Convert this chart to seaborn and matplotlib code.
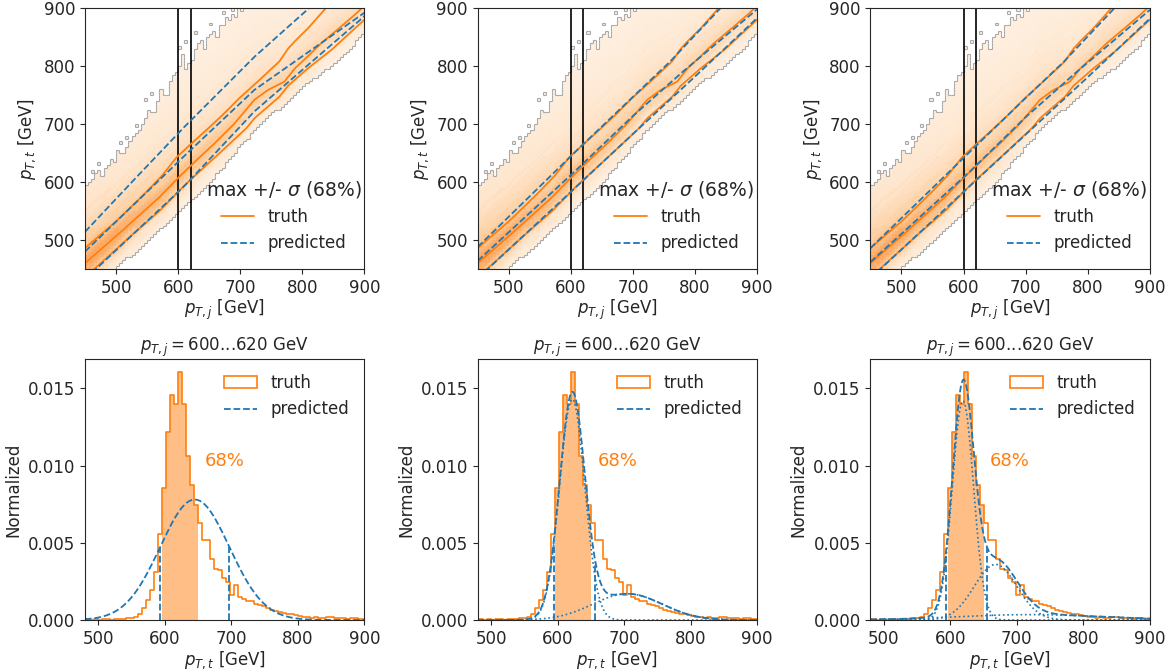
import numpy as np
import pandas as pd
import matplotlib
matplotlib.use("Agg")
import matplotlib.pyplot as plt
import matplotlib.colors as mcolors
from matplotlib.lines import Line2D
from matplotlib.patches import Patch
from matplotlib.collections import LineCollection
from matplotlib.ticker import FormatStrFormatter
import seaborn as sns

sns.set_style("ticks")
plt.rcParams['font.family'] = ['DejaVu Sans']
plt.rcParams['font.size'] = 12
plt.rcParams['mathtext.fontset'] = 'dejavusans'

ORANGE = '#ff7f0e'
BLUE = '#1f77b4'

# truth slice p_T,j = 600...620 GeV, 6 GeV bins starting at 476
truth_edges = np.arange(476, 903, 6)
truth_heights = [0.00004, 0.00004, 0.0, 0.00004, 0.0, 0.00004, 0.00004, 0.0, 0.00004, 0.00008,
                 0.00008, 0.00012, 0.00015, 0.00022, 0.00040, 0.00075, 0.00130, 0.00195, 0.00312, 0.00555,
                 0.00855, 0.01216, 0.01457, 0.01400, 0.01603, 0.01400, 0.01062, 0.00877, 0.00747, 0.00630,
                 0.00520, 0.00515, 0.00395, 0.00330, 0.00322, 0.00270, 0.00245, 0.00165, 0.00228, 0.00150,
                 0.00135, 0.00125, 0.00120, 0.00105, 0.00098, 0.00088, 0.00075, 0.00068, 0.00060, 0.00052,
                 0.00045, 0.00040, 0.00036, 0.00030, 0.00025, 0.00022, 0.00020, 0.00015, 0.00018, 0.00015,
                 0.00012, 0.00018, 0.00022, 0.00012, 0.00010, 0.00012, 0.00008, 0.00012, 0.00010, 0.00006,
                 0.00008]
truth_band = [596, 650]   # 68% region of the truth slice

# predicted gaussian components per model (mean, width, peak height)
pred_mu = [[645], [622, 705], [619, 668, 720]]
pred_sigma = [[52], [19, 52], [16, 32, 110]]
pred_amp = [[0.0078], [0.0143, 0.0017], [0.0142, 0.0036, 0.00035]]
pred_band = [[593, 697], [594, 657], [593, 655]]

# top row: truth max and +/- sigma lines vs p_T,j
truth_max_j = [450, 480, 510, 540, 570, 600, 630, 660, 690, 723, 745, 771, 788, 810, 830, 860, 884, 900]
truth_max_t = [460, 488, 516, 545, 574, 607, 638, 668, 700, 742, 759, 773, 796, 818, 839, 866, 888, 904]
truth_hi_j = [450, 500, 530, 550, 575, 597, 619, 650, 672, 699, 730, 763, 777, 790, 809, 838]
truth_hi_t = [486, 532, 563, 584, 612, 642, 664, 694, 716, 745, 775, 808, 830, 845, 865, 900]
truth_lo_j = [450, 466, 528, 570, 610, 672, 710, 723, 763, 777, 809, 847, 900]
truth_lo_t = [436, 451, 511, 550, 594, 655, 693, 710, 747, 766, 796, 828, 880]

# predicted lines, one set per model: (p_T,j points, p_T,t points)
pred_hi = [([450, 530, 610, 723, 811], [514, 605, 695, 816, 900]),
           ([450, 610, 700, 760, 841], [488, 655, 747, 808, 900]),
           ([450, 610, 700, 760, 843], [486, 652, 745, 806, 900])]
pred_mid = [([450, 610, 723, 900], [480, 645, 759, 892]),
            ([450, 610, 700, 780, 900], [464, 622, 714, 790, 898]),
            ([450, 610, 700, 780, 900], [462, 618, 712, 788, 897])]
pred_lo = [([450, 610, 723, 900], [432, 593, 722, 886]),
           ([450, 610, 700, 800, 900], [434, 593, 683, 782, 883]),
           ([450, 610, 700, 800, 900], [434, 593, 682, 781, 882])]

# populated region of the 2d histogram (upper edge per 5 GeV column)
upper_edge_j = [450, 455, 460, 465, 470, 475, 480, 485, 490, 495, 500, 505, 510, 515, 520, 525, 530,
                535, 540, 545, 550, 555, 560, 565, 570, 575, 580, 585, 590, 595, 600, 605, 610, 615,
                620, 625, 630, 635, 640, 645, 650, 655, 660, 665, 670, 675, 680, 685, 690, 695, 700,
                705, 710]
upper_edge_t = [597, 602, 606, 615, 620, 612, 625, 632, 640, 637, 655, 648, 650, 662, 668, 680, 684,
                690, 702, 712, 725, 722, 718, 740, 760, 750, 752, 775, 787, 790, 800, 822, 795, 805,
                810, 830, 838, 845, 832, 848, 855, 862, 850, 870, 870, 885, 878, 892, 885, 900, 895,
                905, 905]
lower_edge_j = [450, 500, 550, 610, 650, 723, 777, 814, 857, 900]
lower_edge_t = [412, 452, 497, 557, 598, 690, 741, 776, 808, 857]
# isolated populated cells above the upper edge
stray_j = [462, 472, 507, 517, 532, 547, 557, 602, 612, 627, 652, 672, 687]
stray_t = [617, 632, 667, 677, 697, 742, 752, 832, 842, 857, 872, 892, 897]
# event density relative to the 600-620 slice
falloff_j = [450, 525, 610, 700, 800, 900]
falloff_f = [2.0, 1.5, 1.0, 0.7, 0.45, 0.3]

# ---- build the 2d histogram cells from the slice profile ----
cell_edges = np.arange(450, 905, 5)
cell_c = cell_edges[:-1] + 2.5
XC, YC = np.meshgrid(cell_c, cell_c)
heights = np.array(truth_heights)
shift = np.interp(XC, truth_max_j, truth_max_t) - np.interp(610, truth_max_j, truth_max_t)
d = YC - shift
idx = np.searchsorted(truth_edges, d, side='right') - 1
prof = np.where((idx >= 0) & (idx < len(heights)), heights[np.clip(idx, 0, len(heights) - 1)], 0.00006)
prof = np.maximum(prof, 0.00004)
w = prof * np.interp(XC, falloff_j, falloff_f)
up_idx = np.clip(np.searchsorted(upper_edge_j, XC, side='right') - 1, 0, len(upper_edge_j) - 1)
up = np.array(upper_edge_t)[up_idx]
lo = np.interp(XC, lower_edge_j, lower_edge_t)
inside = (YC <= up) & (YC >= lo)
for sj, st in zip(stray_j, stray_t):
    ix = np.searchsorted(cell_edges, sj) - 1
    iy = np.searchsorted(cell_edges, st) - 1
    if 0 <= ix < len(cell_c) and 0 <= iy < len(cell_c):
        inside[iy, ix] = True
w = np.where(inside, w, 0.0)
cells = pd.DataFrame({'pt_j': XC[inside], 'pt_t': YC[inside], 'w': w[inside]})

# staircase outline of populated region
segs = []
ny, nx = inside.shape
for iy in range(ny):
    for ix in range(nx - 1):
        if inside[iy, ix] != inside[iy, ix + 1]:
            segs.append([(cell_edges[ix + 1], cell_edges[iy]), (cell_edges[ix + 1], cell_edges[iy + 1])])
for iy in range(ny - 1):
    for ix in range(nx):
        if inside[iy, ix] != inside[iy + 1, ix]:
            segs.append([(cell_edges[ix], cell_edges[iy + 1]), (cell_edges[ix + 1], cell_edges[iy + 1])])

cmap = mcolors.LinearSegmentedColormap.from_list('pale_or', plt.cm.Oranges(np.linspace(0.02, 0.42, 256)))

fig, axs = plt.subplots(2, 3, figsize=(11.75, 6.7), dpi=100)
plt.subplots_adjust(left=0.0723, right=0.9787, bottom=0.0746, top=0.988, wspace=0.405, hspace=0.345)

centers = (truth_edges[:-1] + truth_edges[1:]) / 2
xg = np.linspace(480, 900, 421)
cell_bins = list(cell_edges)

for k in range(3):
    # top: 2d histogram with lines
    ax = axs[0, k]
    sns.histplot(data=cells, x='pt_j', y='pt_t', weights='w', bins=[cell_bins, cell_bins],
                 cmap=cmap, ax=ax)
    ax.collections[-1].set_norm(mcolors.PowerNorm(gamma=0.5, vmin=0, vmax=0.032, clip=True))
    ax.add_collection(LineCollection(segs, colors='#a8a8a8', linewidths=0.8))
    ax.axvline(600, color='k', lw=1.2)
    ax.axvline(620, color='k', lw=1.2)
    for lj, lt in [(truth_hi_j, truth_hi_t), (truth_max_j, truth_max_t), (truth_lo_j, truth_lo_t)]:
        sns.lineplot(x=lj, y=lt, ax=ax, color=ORANGE, lw=1.3)
    for pj, pt in [pred_hi[k], pred_mid[k], pred_lo[k]]:
        sns.lineplot(x=pj, y=pt, ax=ax, color=BLUE, lw=1.3, linestyle='--')
    ax.set_xlim(450, 900)
    ax.set_ylim(450, 900)
    ax.set_xticks([500, 600, 700, 800, 900])
    ax.set_yticks([500, 600, 700, 800, 900])
    ax.set_xlabel(r'$p_{T,j}$ [GeV]', labelpad=1)
    ax.set_ylabel(r'$p_{T,t}$ [GeV]')
    hnd = [Line2D([], [], color=ORANGE, lw=1.3), Line2D([], [], color=BLUE, lw=1.3, ls='--')]
    ax.legend(hnd, ['truth', 'predicted'], title=r'max +/- $\sigma$ (68%)', loc='lower right',
              bbox_to_anchor=(1.05, 0.0), frameon=False, fontsize=12, title_fontsize=13.5,
              borderaxespad=0.6)

    # bottom: slice histogram vs prediction
    ax = axs[1, k]
    sel = (centers > truth_band[0]) & (centers < truth_band[1])
    band_edges = [e for e in truth_edges if truth_band[0] <= e <= truth_band[1]]
    sns.histplot(x=centers[sel], weights=heights[sel], bins=band_edges, element='step', fill=True,
                 color=ORANGE, alpha=0.5, linewidth=0, ax=ax)
    sns.histplot(x=centers, weights=heights, bins=list(truth_edges), element='step', fill=False,
                 color=ORANGE, linewidth=1.2, ax=ax)
    comps = [a * np.exp(-0.5 * ((xg - m) / s) ** 2) for m, s, a in zip(pred_mu[k], pred_sigma[k], pred_amp[k])]
    total = np.sum(comps, axis=0)
    if len(comps) > 1:
        for c in comps:
            sns.lineplot(x=xg, y=c, ax=ax, color=BLUE, lw=1.2, linestyle=':')
    sns.lineplot(x=xg, y=total, ax=ax, color=BLUE, lw=1.3, linestyle='--')
    ax.vlines(pred_band[k], 0, np.interp(pred_band[k], xg, total), colors=BLUE, linestyles='--', lw=1.3)
    ax.text(660, 0.0103, '68%', color=ORANGE, fontsize=13, va='center')
    ax.set_xlim(480, 900)
    ax.set_ylim(0, 0.0169)
    ax.set_xticks([500, 600, 700, 800, 900])
    ax.set_yticks([0, 0.005, 0.010, 0.015])
    ax.yaxis.set_major_formatter(FormatStrFormatter('%.3f'))
    ax.set_xlabel(r'$p_{T,t}$ [GeV]', labelpad=1)
    ax.set_ylabel('Normalized')
    ax.set_title(r'$p_{T,j}=$600...620 GeV', fontsize=12, pad=4)
    hnd = [Patch(facecolor='none', edgecolor=ORANGE, lw=1.2), Line2D([], [], color=BLUE, lw=1.3, ls='--')]
    ax.legend(hnd, ['truth', 'predicted'], loc='upper right', frameon=False, fontsize=12)

fig.savefig('out.png', dpi=100)
